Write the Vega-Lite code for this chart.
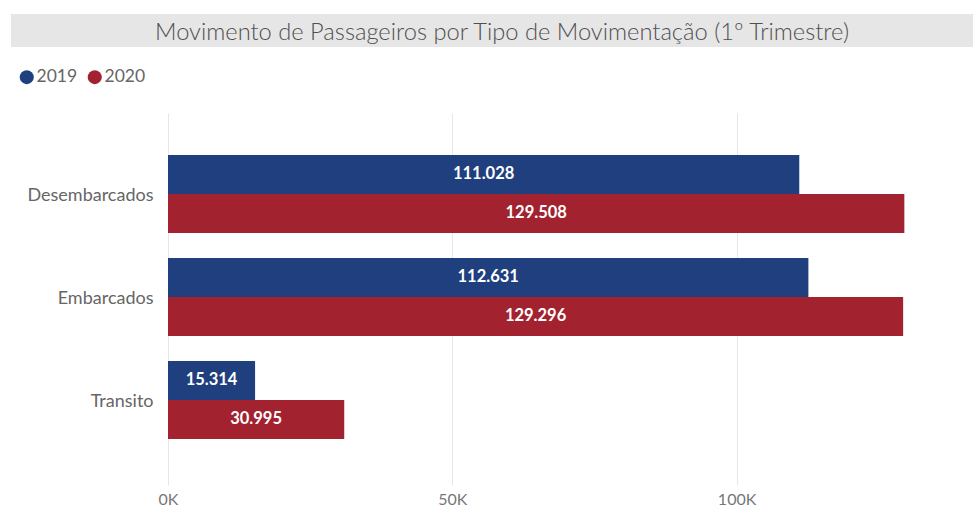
{
  "$schema": "https://vega.github.io/schema/vega-lite/v6.json",
  "padding": {"left": 11, "top": 14, "right": 0, "bottom": 0},
  "background": "white",
  "spacing": 14,
  "resolve": {"legend": {"color": "independent"}},
  "config": {
    "locale": {"number": {"decimal": ",", "thousands": ".", "grouping": [3], "currency": ["R$", ""]}},
    "view": {"stroke": null},
    "font": "Lato"
  },
  "vconcat": [
    {
      "width": 962,
      "height": 33,
      "view": {"fill": "#e6e6e6", "stroke": null},
      "data": {"values": [{"t": "Movimento de Passageiros por Tipo de Movimentação (1º Trimestre)"}]},
      "mark": {"type": "text", "fontSize": 23.7, "font": "Lato", "fontWeight": 300, "color": "#505050", "dx": 10, "dy": 2, "baseline": "middle"},
      "encoding": {"text": {"field": "t", "type": "nominal"}}
    },
    {
      "width": 953,
      "height": 372,
      "data": {
        "values": [
          {"tipo": "Desembarcados", "ano": "2019", "valor": 111028},
          {"tipo": "Desembarcados", "ano": "2020", "valor": 129508},
          {"tipo": "Embarcados", "ano": "2019", "valor": 112631},
          {"tipo": "Embarcados", "ano": "2020", "valor": 129296},
          {"tipo": "Transito", "ano": "2019", "valor": 15314},
          {"tipo": "Transito", "ano": "2020", "valor": 30995}
        ]
      },
      "encoding": {
        "y": {
          "field": "tipo",
          "type": "nominal",
          "sort": ["Desembarcados", "Embarcados", "Transito"],
          "scale": {"paddingInner": 0.243, "paddingOuter": 0.427, "align": 0.477},
          "axis": {"title": null, "ticks": false, "domain": false, "offset": -157, "labelPadding": 15, "labelOffset": 2, "labelFontSize": 18, "labelColor": "#666666", "labelFont": "Lato", "grid": false}
        },
        "yOffset": {"field": "ano", "type": "nominal", "sort": ["2019", "2020"]}
      },
      "layer": [
        {
          "mark": {"type": "bar"},
          "encoding": {
            "x": {
              "field": "valor",
              "type": "quantitative",
              "scale": {"domain": [0, 140000], "nice": false, "range": [157, 953]},
              "axis": {"title": null, "values": [0, 50000, 100000], "labelExpr": "datum.value/1000 + 'K'", "labelFlush": false, "ticks": false, "domain": false, "labelPadding": 6, "labelFontSize": 16, "labelColor": "#777777", "labelFont": "Lato", "grid": true, "gridColor": "#e6e6e6", "gridWidth": 1}
            },
            "color": {
              "field": "ano",
              "type": "nominal",
              "scale": {"domain": ["2019", "2020"], "range": ["#203f7e", "#a22230"]},
              "legend": {"orient": "none", "legendX": 0, "legendY": -52, "padding": 7, "direction": "horizontal", "title": null, "symbolType": "circle", "symbolSize": 196, "symbolOpacity": 1, "symbolStrokeWidth": 0, "labelFontSize": 17.5, "labelColor": "#666666", "labelFont": "Lato", "labelOffset": 1, "columnPadding": 8}
            }
          }
        },
        {
          "transform": [{"calculate": "datum.valor / 2", "as": "meio"}],
          "mark": {"type": "text", "color": "white", "fontSize": 16.5, "fontWeight": "bold", "font": "Lato", "baseline": "middle", "align": "center"},
          "encoding": {
            "x": {"field": "meio", "type": "quantitative"},
            "text": {"field": "valor", "type": "quantitative", "format": ",d"}
          }
        }
      ]
    }
  ]
}
